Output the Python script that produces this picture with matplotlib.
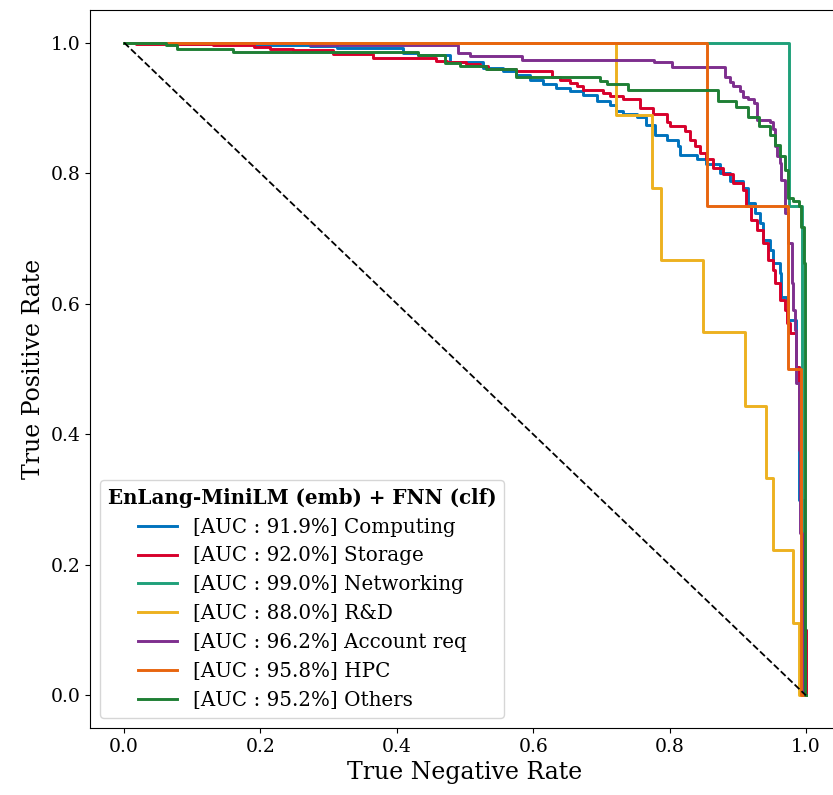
import matplotlib
matplotlib.use("Agg")
import matplotlib.pyplot as plt

plt.rcParams["font.family"] = "DejaVu Serif"

# (true negative rate at which the curve drops, true positive rate after the drop)
comp_tnr = [0.0, 0.194, 0.272, 0.312, 0.409, 0.431, 0.478, 0.526, 0.556, 0.575, 0.595, 0.615,
            0.634, 0.654, 0.673, 0.693, 0.712, 0.722, 0.732, 0.752, 0.766, 0.778, 0.796,
            0.813, 0.815, 0.840, 0.854, 0.874, 0.888, 0.908, 0.915, 0.925, 0.932, 0.937,
            0.947, 0.952, 0.962, 0.964, 0.972, 0.974, 0.986, 0.990, 0.995, 1.0]
comp_tpr = [1.0, 0.997, 0.995, 0.992, 0.984, 0.981, 0.971, 0.961, 0.956, 0.951, 0.943, 0.936,
            0.930, 0.926, 0.920, 0.910, 0.905, 0.895, 0.890, 0.886, 0.874, 0.859, 0.851,
            0.841, 0.828, 0.821, 0.814, 0.800, 0.788, 0.777, 0.754, 0.739, 0.723, 0.698,
            0.683, 0.662, 0.647, 0.611, 0.606, 0.575, 0.503, 0.30, 0.10, 0.0]

stor_tnr = [0.0, 0.018, 0.130, 0.190, 0.214, 0.248, 0.306, 0.365, 0.458, 0.473, 0.502, 0.522,
            0.534, 0.575, 0.627, 0.639, 0.654, 0.664, 0.673, 0.703, 0.712, 0.732, 0.756,
            0.776, 0.796, 0.800, 0.822, 0.830, 0.837, 0.844, 0.854, 0.864, 0.879, 0.893,
            0.908, 0.912, 0.920, 0.928, 0.937, 0.945, 0.952, 0.955, 0.962, 0.969, 0.972,
            0.976, 0.986, 0.990, 0.991, 0.993, 0.997, 1.0]
stor_tpr = [1.0, 0.998, 0.996, 0.993, 0.990, 0.988, 0.982, 0.976, 0.972, 0.970, 0.967, 0.964,
            0.960, 0.957, 0.948, 0.943, 0.938, 0.933, 0.928, 0.923, 0.918, 0.913, 0.900,
            0.890, 0.879, 0.872, 0.864, 0.851, 0.841, 0.831, 0.821, 0.808, 0.798, 0.785,
            0.775, 0.749, 0.729, 0.713, 0.693, 0.667, 0.652, 0.631, 0.606, 0.590, 0.570,
            0.555, 0.503, 0.452, 0.411, 0.30, 0.10, 0.0]

net_tnr = [0.0, 0.975, 0.994, 1.0]
net_tpr = [1.0, 0.75, 0.0, 0.0]

rd_tnr = [0.0, 0.721, 0.774, 0.788, 0.849, 0.911, 0.941, 0.952, 0.981, 0.990, 1.0]
rd_tpr = [1.0, 0.889, 0.778, 0.667, 0.556, 0.444, 0.333, 0.222, 0.111, 0.0, 0.0]

acc_tnr = [0.0, 0.272, 0.490, 0.507, 0.583, 0.777, 0.803, 0.881, 0.888, 0.893, 0.903, 0.908,
           0.915, 0.924, 0.928, 0.947, 0.952, 0.955, 0.957, 0.962, 0.964, 0.969, 0.970,
           0.974, 0.979, 0.981, 0.984, 0.986, 0.990, 0.991, 0.994, 0.996, 1.0]
acc_tpr = [1.0, 0.997, 0.984, 0.979, 0.974, 0.970, 0.963, 0.948, 0.940, 0.933, 0.926, 0.917,
           0.914, 0.908, 0.882, 0.879, 0.867, 0.841, 0.826, 0.816, 0.790, 0.775, 0.739,
           0.693, 0.632, 0.590, 0.560, 0.478, 0.376, 0.248, 0.095, 0.0, 0.0]

hpc_tnr = [0.0, 0.855, 0.973, 0.993, 1.0]
hpc_tpr = [1.0, 0.75, 0.5, 0.0, 0.0]

oth_tnr = [0.0, 0.062, 0.077, 0.160, 0.431, 0.470, 0.492, 0.531, 0.575, 0.698, 0.708, 0.739,
           0.871, 0.898, 0.915, 0.931, 0.947, 0.955, 0.962, 0.969, 0.974, 0.981, 0.990,
           0.993, 0.997, 0.999, 1.0]
oth_tpr = [1.0, 0.997, 0.991, 0.986, 0.981, 0.969, 0.964, 0.959, 0.948, 0.941, 0.936, 0.928,
           0.911, 0.902, 0.886, 0.872, 0.859, 0.843, 0.826, 0.805, 0.762, 0.757, 0.749,
           0.718, 0.662, 0.0, 0.0]

series = [
    (comp_tnr, comp_tpr, "[AUC : 91.9%] Computing", "#0072BD"),
    (stor_tnr, stor_tpr, "[AUC : 92.0%] Storage", "#D7002B"),
    (net_tnr, net_tpr, "[AUC : 99.0%] Networking", "#1FA07A"),
    (rd_tnr, rd_tpr, "[AUC : 88.0%] R&D", "#EDB120"),
    (acc_tnr, acc_tpr, "[AUC : 96.2%] Account req", "#7E2F8E"),
    (hpc_tnr, hpc_tpr, "[AUC : 95.8%] HPC", "#E8650F"),
    (oth_tnr, oth_tpr, "[AUC : 95.2%] Others", "#1F7F35"),
]

fig = plt.figure(figsize=(8.33, 7.95), dpi=100)
ax = fig.add_axes([90 / 833, 67 / 795, 750 / 833, 718 / 795])

for tnr, tpr, label, color in series:
    ax.plot(tnr, tpr, drawstyle="steps-post", color=color, lw=2.1, label=label)

ax.plot([0, 1], [1, 0], "k--", lw=1.3)

ax.set_xlim(-0.05, 1.05)
ax.set_ylim(-0.05, 1.05)
ax.tick_params(labelsize=13.5)
ax.set_xlabel("True Negative Rate", fontsize=17)
ax.set_ylabel("True Positive Rate", fontsize=17)

leg = ax.legend(loc="lower left", fontsize=14.3, title="EnLang-MiniLM (emb) + FNN (clf)",
                title_fontproperties={"weight": "bold", "size": 14.3})

fig.savefig("out.png", dpi=100)
